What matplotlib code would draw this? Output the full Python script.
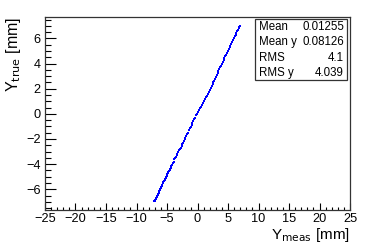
import matplotlib
matplotlib.use("Agg")
import matplotlib.pyplot as plt
from matplotlib.ticker import MultipleLocator

plt.rcParams['font.family'] = ['Liberation Sans', 'DejaVu Sans']

# Scatter data (Y_meas, Y_true) in mm
x_meas = [-7.20, -7.12, -7.04, -6.96, -6.88, -6.80, -6.72, -6.64, -6.55, -6.47,
          -6.38, -6.30, -6.21, -6.12, -6.03, -5.94, -5.86, -5.77, -5.68, -5.58,
          -5.49, -5.40, -5.31, -5.22, -5.12, -5.03, -4.94, -4.85, -4.76, -4.66,
          -4.57, -4.48, -4.38, -4.28, -4.15, -4.02, -3.90, -3.80, -3.66, -3.52,
          -3.40, -3.28, -3.15, -3.02, -2.90, -2.78, -2.62, -2.50, -2.38, -2.22,
          -2.10, -1.98, -1.82, -1.70, -1.55, -1.40, -1.25, -1.10, -0.98, -0.85,
          -0.68, -0.52, -0.40, -0.22, -0.08, 0.10, 0.24, 0.40, 0.55, 0.70,
          0.86, 1.02, 1.18, 1.34, 1.50, 1.66, 1.82, 1.98, 2.14, 2.30,
          2.46, 2.60, 2.74, 2.88, 3.02, 3.16, 3.30, 3.44, 3.58, 3.72,
          3.86, 4.00, 4.14, 4.28, 4.42, 4.56, 4.70, 4.84, 4.98, 5.12,
          5.26, 5.40, 5.54, 5.68, 5.82, 5.96, 6.10, 6.24, 6.38, 6.52,
          6.64, 6.76, 6.86, 6.94, 7.00]
y_true = [-6.92, -6.93, -6.91, -6.88, -6.80, -6.71, -6.62, -6.53, -6.44, -6.35,
          -6.26, -6.17, -6.08, -5.99, -5.90, -5.81, -5.72, -5.63, -5.54, -5.45,
          -5.36, -5.27, -5.18, -5.09, -5.00, -4.91, -4.82, -4.73, -4.64, -4.55,
          -4.46, -4.37, -4.27, -4.17, -4.05, -3.92, -3.80, -3.62, -3.55, -3.42,
          -3.30, -3.16, -3.05, -2.90, -2.80, -2.70, -2.55, -2.42, -2.30, -2.18,
          -2.02, -1.92, -1.75, -1.62, -1.50, -1.30, -1.15, -1.02, -0.88, -0.75,
          -0.60, -0.45, -0.30, -0.12, 0.02, 0.18, 0.30, 0.45, 0.58, 0.72,
          0.86, 1.02, 1.15, 1.30, 1.45, 1.60, 1.74, 1.90, 2.04, 2.20,
          2.34, 2.50, 2.64, 2.80, 2.95, 3.10, 3.25, 3.40, 3.54, 3.69,
          3.84, 3.98, 4.13, 4.27, 4.42, 4.56, 4.71, 4.85, 5.00, 5.14,
          5.29, 5.43, 5.58, 5.72, 5.87, 6.01, 6.16, 6.30, 6.45, 6.58,
          6.70, 6.82, 6.91, 6.97, 7.00]

stat_names = ["Mean", "Mean y", "RMS", "RMS y"]
stat_values = ["0.01255", "0.08126", "4.1", "4.039"]

fig = plt.figure(figsize=(3.81, 2.44), dpi=100)
ax = fig.add_axes([45/381, 34/244, 305/381, 193/244])

ax.plot(x_meas, y_true, linestyle='none', marker='s', markersize=1.6,
        markeredgewidth=0, color='#0000ff')

ax.set_xlim(-25, 25)
ax.set_ylim(-7.65, 7.7)
ax.xaxis.set_major_locator(MultipleLocator(5))
ax.xaxis.set_minor_locator(MultipleLocator(1))
ax.yaxis.set_major_locator(MultipleLocator(2))
ax.yaxis.set_minor_locator(MultipleLocator(0.5))
ax.tick_params(which='both', direction='in', top=False, right=False,
               labelsize=9.2, colors='black')
ax.tick_params(axis='x', which='major', length=5, width=0.8)
ax.tick_params(axis='x', which='minor', length=2.5, width=0.8)
ax.tick_params(axis='y', which='major', length=8, width=0.8)
ax.tick_params(axis='y', which='minor', length=4, width=0.8)
ax.tick_params(axis='x', pad=2)
ax.tick_params(axis='y', pad=3)
for s in ax.spines.values():
    s.set_linewidth(0.9)
    s.set_color('#333333')

ax.set_xlabel(r'Y$_{\mathrm{meas}}$ [mm]', fontsize=11, loc='right')
ax.xaxis.set_label_coords(1.0, -0.174)
ax.xaxis.label.set_va('bottom')
ax.set_ylabel(r'Y$_{\mathrm{true}}$ [mm]', fontsize=11.5, loc='top', labelpad=2)

# stats box
bx0, bx1 = 255/381, 347/381
by0, by1 = 1 - 80/244, 1 - 19/244
rect = plt.Rectangle((bx0, by0), bx1 - bx0, by1 - by0, transform=fig.transFigure,
                     facecolor='white', edgecolor='#333333', linewidth=0.9, zorder=5)
fig.patches.append(rect)
rows_y = [27, 42, 58, 73]
for name, val, yy in zip(stat_names, stat_values, rows_y):
    fig.text(bx0 + 4/381, 1 - yy/244, name, fontsize=8.3, va='center', ha='left', zorder=6)
    fig.text(bx1 - 3/381, 1 - yy/244, val, fontsize=8.3, va='center', ha='right', zorder=6)

fig.savefig('out.png', dpi=100)
